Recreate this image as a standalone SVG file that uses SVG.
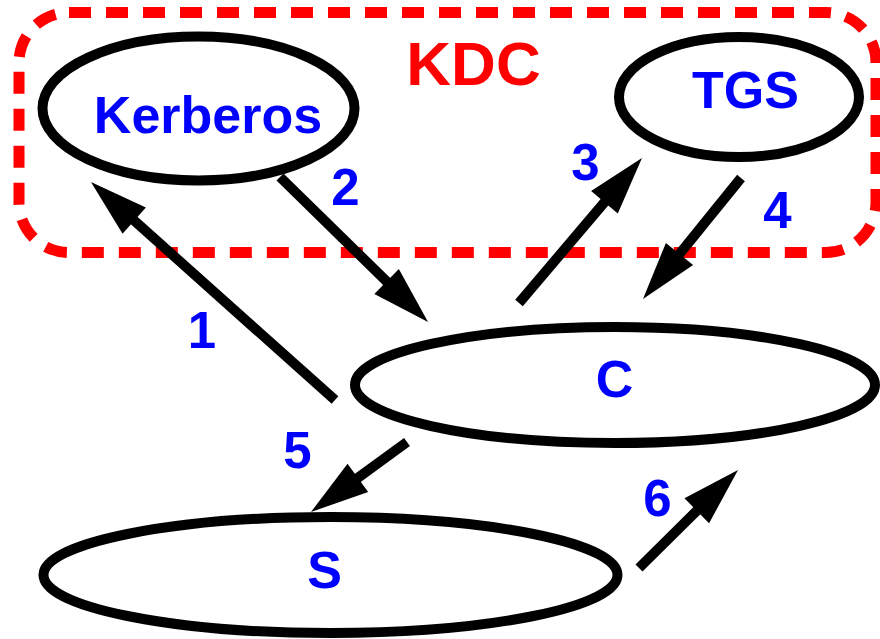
<svg xmlns="http://www.w3.org/2000/svg" width="880" height="639" viewBox="0 0 880 639">
<style>
.node{fill:none;stroke:#000;stroke-width:10}
.lbl{font-family:"Liberation Sans",Arial,sans-serif;font-weight:bold;fill:#0000ff;text-anchor:middle}
.big{font-size:52px}
.num{font-size:51px}
.edge{stroke:#000;stroke-width:10;fill:none;marker-end:url(#ah)}
</style>
<defs>
<marker id="ah" markerUnits="userSpaceOnUse" markerWidth="60" markerHeight="36" refX="20" refY="17.5" orient="auto" viewBox="0 0 60 36" overflow="visible">
<path d="M0,0 L58,17.5 L0,35 z" fill="#000"/>
</marker>
</defs>
<rect width="880" height="639" fill="#fff"/>
<g id="kdc">
<rect x="19" y="12.5" width="857" height="240" rx="50" ry="50" fill="none" stroke="#ff0000" stroke-width="11" stroke-dasharray="22 15"/>
<text x="473.5" y="85" font-family="Liberation Sans,Arial,sans-serif" font-weight="bold" font-size="62" fill="#ff0000" text-anchor="middle">KDC</text>
</g>
<g id="kerberos">
<ellipse class="node" cx="198.5" cy="108.5" rx="156" ry="72"/>
<text class="lbl big" x="208" y="133">Kerberos</text>
</g>
<g id="tgs">
<ellipse class="node" cx="739" cy="97" rx="120" ry="60"/>
<text class="lbl big" x="745.5" y="108">TGS</text>
</g>
<g id="c">
<ellipse class="node" cx="615" cy="385" rx="260" ry="58"/>
<text class="lbl big" x="614.5" y="397">C</text>
</g>
<g id="s">
<ellipse class="node" cx="330.5" cy="575" rx="287" ry="58"/>
<text class="lbl big" x="324.5" y="588">S</text>
</g>
<g id="connectors">
<line class="edge" x1="335" y1="400" x2="119.3" y2="207.3"/>
<line class="edge" x1="280" y1="177" x2="400.9" y2="295.4"/>
<line class="edge" x1="519" y1="303" x2="617.4" y2="187"/>
<line class="edge" x1="741" y1="178" x2="666.9" y2="269.5"/>
<line class="edge" x1="407" y1="442" x2="341.7" y2="489.6"/>
<line class="edge" x1="639" y1="568" x2="711" y2="496.7"/>
</g>
<g id="labels">
<text class="lbl num" x="202" y="348">1</text>
<text class="lbl num" x="345.5" y="205">2</text>
<text class="lbl num" x="585.5" y="180">3</text>
<text class="lbl num" x="777.5" y="228">4</text>
<text class="lbl num" x="297.5" y="468">5</text>
<text class="lbl num" x="657.5" y="516">6</text>
</g>
</svg>
